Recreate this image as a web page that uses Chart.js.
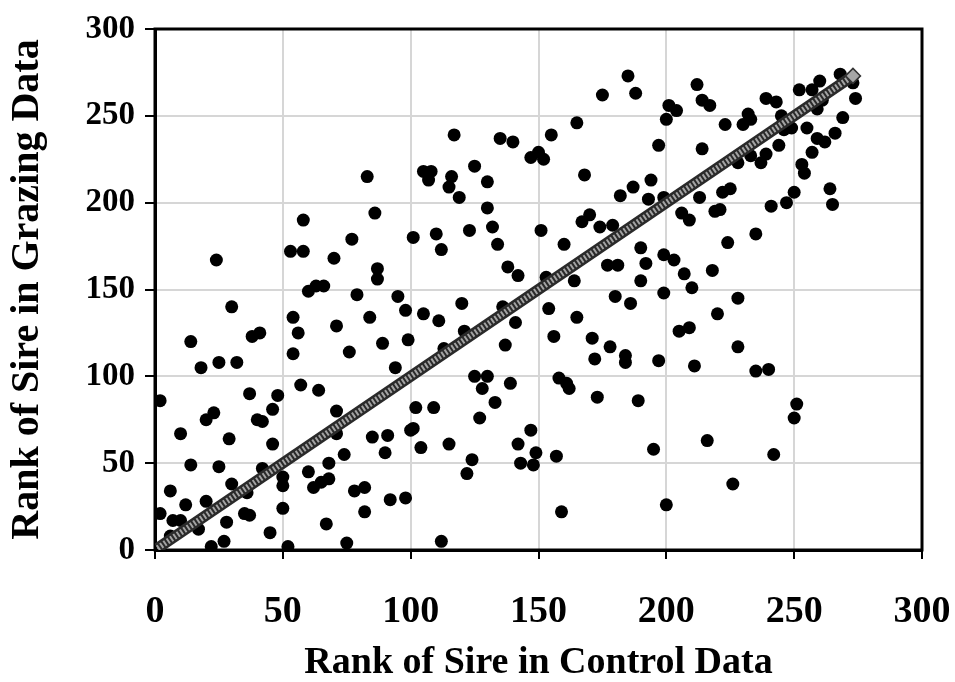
<!DOCTYPE html>
<html>
<head>
<meta charset="utf-8">
<script src="https://cdn.jsdelivr.net/npm/chart.js@4.4.1/dist/chart.umd.min.js"></script>
<style>
  html, body { margin: 0; padding: 0; background: #ffffff; }
  #wrap { width: 955px; height: 682px; position: relative; }
</style>
</head>
<body>
<div id="wrap"><canvas id="rankChart" width="955" height="682"></canvas></div>
<script>
// Sire ranks: position in the control data set vs. position in the grazing data set
const controlRank = [
  83, 117, 135, 140, 155, 165, 185, 175, 188, 197, 201, 200, 105, 108, 107, 116, 115, 125, 130, 119,
  147, 150, 152, 168, 182, 187, 194, 193, 199, 212, 214, 217, 204, 223, 232, 233, 230, 239, 243, 252,
  257, 260, 268, 273, 274, 261, 259, 269, 255, 259, 262, 266, 257, 246, 249, 245, 244, 239, 233, 237,
  228, 214, 253, 254, 264, 250, 222, 225, 213, 265, 241, 247, 206, 209, 219, 221, 235, 224, 199, 203,
  207, 218, 210, 199, 228, 220, 205, 209, 228, 197, 211, 235, 240, 251, 250, 216, 242, 226, 200, 125,
  130, 128, 139, 133, 127, 158, 161, 162, 173, 189, 102, 109, 101, 100, 104, 115, 124, 122, 147, 142,
  149, 143, 148, 157, 195, 159, 98, 112, 172, 184, 184, 101, 110, 112, 123, 132, 134, 138, 142, 151,
  160, 167, 170, 174, 179, 190, 192, 177, 181, 190, 153, 164, 180, 186, 95, 98, 105, 111, 120, 136,
  141, 121, 99, 113, 137, 154, 165, 156, 171, 178, 130, 24, 58, 53, 58, 86, 77, 70, 87, 87,
  60, 63, 66, 79, 30, 54, 56, 71, 84, 89, 76, 54, 94, 14, 38, 41, 18, 25, 32, 2,
  37, 48, 46, 57, 64, 20, 23, 40, 42, 10, 29, 46, 71, 71, 74, 14, 25, 42, 30, 6,
  12, 20, 2, 7, 10, 17, 6, 28, 22, 27, 45, 35, 37, 36, 50, 50, 50, 52, 60, 62,
  65, 68, 68, 67, 75, 78, 82, 82, 85, 91, 90, 92
];
const grazingRank = [
  215, 239, 237, 235, 239, 246, 273, 262, 263, 233, 256, 248, 218, 218, 213, 215, 209, 221, 212, 203,
  226, 229, 225, 216, 204, 209, 213, 202, 203, 268, 259, 256, 253, 245, 251, 248, 245, 260, 258, 265,
  265, 270, 274, 269, 260, 259, 254, 249, 243, 237, 235, 240, 229, 242, 243, 250, 233, 228, 227, 223,
  223, 231, 222, 217, 208, 206, 206, 208, 203, 199, 198, 200, 194, 190, 195, 196, 182, 177, 170, 167,
  159, 161, 151, 148, 145, 136, 126, 128, 117, 109, 106, 103, 104, 84, 76, 63, 55, 38, 26, 100,
  100, 93, 96, 85, 76, 99, 96, 93, 88, 86, 82, 82, 70, 69, 59, 61, 52, 44, 69, 61,
  56, 50, 49, 54, 58, 22, 30, 5, 110, 112, 108, 180, 182, 173, 184, 186, 176, 163, 158, 184,
  176, 189, 193, 186, 187, 174, 165, 164, 164, 155, 157, 155, 146, 142, 146, 138, 136, 132, 142, 140,
  131, 126, 121, 116, 118, 139, 134, 123, 122, 117, 197, 167, 190, 172, 172, 194, 179, 168, 162, 156,
  149, 152, 152, 147, 140, 134, 125, 129, 134, 119, 114, 113, 105, 120, 123, 125, 105, 108, 108, 86,
  90, 89, 81, 95, 92, 75, 79, 75, 74, 67, 64, 61, 80, 67, 55, 49, 48, 47, 38, 34,
  26, 28, 21, 17, 17, 12, 8, 16, 2, 5, 10, 21, 20, 33, 42, 37, 24, 2, 45, 36,
  39, 41, 50, 15, 4, 34, 36, 22, 65, 66, 56, 29
];
// 1:1 reference line (equal rank in both data sets)
const parityX = [1, 273];
const parityY = [1, 273];
const axisTicks = [0, 50, 100, 150, 200, 250, 300];

const serif = "'Liberation Serif', 'Times New Roman', Times, serif";

const sirePoints = controlRank.map((x, i) => ({ x: x, y: grazingRank[i] }));
const parityPoints = parityX.map((x, i) => ({ x: x, y: parityY[i] }));

// black frame around the plotting area
const framePlugin = {
  id: 'plotFrame',
  beforeDatasetsDraw(chart) {
    const { ctx, chartArea: a } = chart;
    ctx.save();
    ctx.strokeStyle = '#000';
    ctx.lineWidth = 3;
    ctx.strokeRect(a.left, a.top, a.right - a.left, a.bottom - a.top);
    ctx.restore();
  }
};

const useTicks = (scale) => { scale.ticks = axisTicks.map(v => ({ value: v })); };

new Chart(document.getElementById('rankChart'), {
  type: 'scatter',
  data: {
    datasets: [
      {
        label: 'Sires',
        data: sirePoints,
        backgroundColor: '#000',
        borderColor: '#000',
        borderWidth: 0,
        pointRadius: 6.5,
        pointHoverRadius: 6.5,
        order: 2
      },
      {
        label: 'Equal rank (edge)',
        data: parityPoints,
        showLine: true,
        borderColor: '#2a2a2a',
        borderWidth: 11,
        borderCapStyle: 'butt',
        pointRadius: 0,
        order: 1
      },
      {
        label: 'Equal rank',
        data: parityPoints,
        showLine: true,
        borderColor: '#a3a3a3',
        borderWidth: 6,
        borderDash: [2, 2],
        borderCapStyle: 'butt',
        pointStyle: 'rectRot',
        pointRadius: [0, 7.5],
        pointBackgroundColor: '#a6a6a6',
        pointBorderColor: '#333',
        pointBorderWidth: 1.5,
        order: 0
      }
    ]
  },
  options: {
    responsive: false,
    animation: false,
    devicePixelRatio: 1,
    layout: { padding: { top: 29, right: 33, left: 0, bottom: 0 } },
    plugins: {
      legend: { display: false },
      tooltip: { enabled: false }
    },
    scales: {
      x: {
        type: 'linear',
        position: 'bottom',
        min: 0,
        max: 300,
        afterBuildTicks: useTicks,
        afterFit: (s) => { s.height = 132; s.paddingLeft = 0; s.paddingRight = 0; },
        grid: {
          color: '#d6d6d6',
          lineWidth: 2,
          tickLength: 9,
          tickColor: '#000',
          tickWidth: 2
        },
        border: { color: '#000', width: 3 },
        ticks: {
          color: '#000',
          padding: 30,
          maxRotation: 0,
          font: { family: serif, size: 38, weight: 'bold' }
        },
        title: {
          display: true,
          text: 'Rank of Sire in Control Data',
          color: '#000',
          padding: { top: 0, bottom: 0 },
          font: { family: serif, size: 38, weight: 'bold', lineHeight: 1 }
        }
      },
      y: {
        type: 'linear',
        min: 0,
        max: 300,
        afterBuildTicks: useTicks,
        afterFit: (s) => { s.width = 155; s.paddingTop = 0; s.paddingBottom = 0; },
        grid: {
          color: '#d6d6d6',
          lineWidth: 2,
          tickLength: 10,
          tickColor: '#000',
          tickWidth: 2
        },
        border: { color: '#000', width: 3 },
        ticks: {
          color: '#000',
          padding: 10,
          font: { family: serif, size: 33, weight: 'bold' }
        },
        title: {
          display: true,
          text: 'Rank of Sire in Grazing Data',
          color: '#000',
          padding: { top: 8, bottom: 0 },
          font: { family: serif, size: 40, weight: 'bold', lineHeight: 1 }
        }
      }
    }
  },
  plugins: [framePlugin]
});
</script>
</body>
</html>
